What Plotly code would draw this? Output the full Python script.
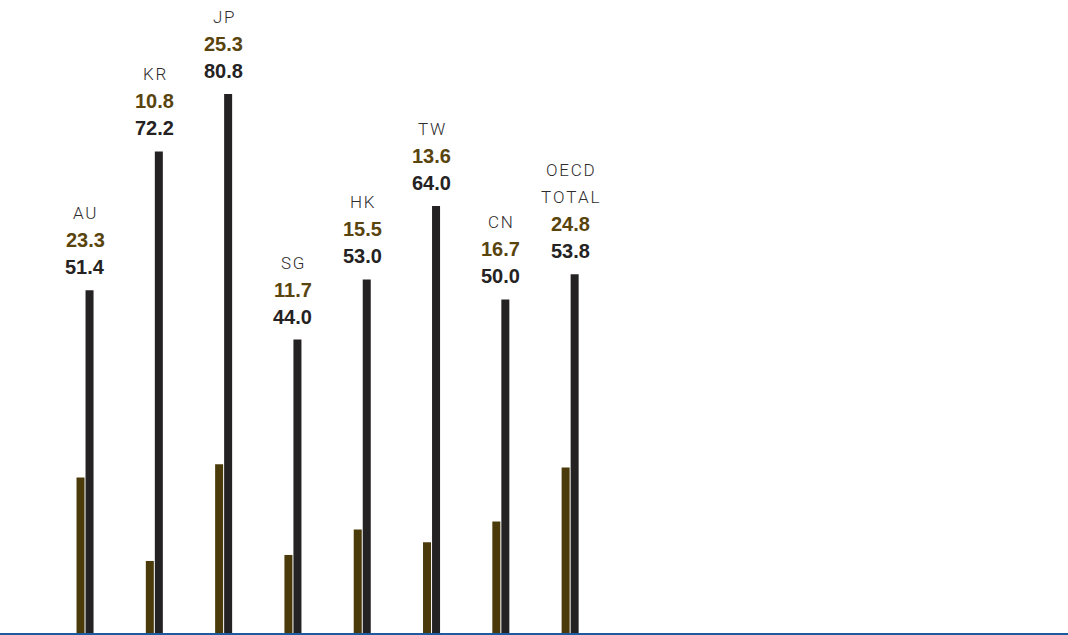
import plotly.graph_objects as go

# Category names (multi-line names split with "\n")
categories = ["AU", "KR", "JP", "SG", "HK", "TW", "CN", "OECD\nTOTAL"]
# Series values
series_brown = [23.3, 10.8, 25.3, 11.7, 15.5, 13.6, 16.7, 24.8]
series_dark = [51.4, 72.2, 80.8, 44.0, 53.0, 64.0, 50.0, 53.8]

BROWN = "#4b3a0a"
BROWN_TEXT = "#59440e"
DARK = "#252223"
NAME = "#2e2c2d"
BLUE = "#1d5a9e"

keys = [c.replace("\n", " ") for c in categories]

fig = go.Figure()
fig.add_trace(go.Bar(x=keys, y=series_brown, marker=dict(color=BROWN, line=dict(width=0)),
                     hoverinfo="skip"))
fig.add_trace(go.Bar(x=keys, y=series_dark, marker=dict(color=DARK, line=dict(width=0)),
                     hoverinfo="skip"))

# Stacked labels above each group: name line(s), brown value, dark value
annotations = []
for key, name, b, d in zip(keys, categories, series_brown, series_dark):
    lines = [(f"<b>{d:.1f}</b>", DARK, "Liberation Sans", 20, None),
             (f"<b>{b:.1f}</b>", BROWN_TEXT, "Liberation Sans", 20, None)]
    for part in reversed(name.split("\n")):
        lines.append(("\u200a".join(part), NAME, "Roboto", 17, 300))
    for k, (txt, col, fam, size, weight) in enumerate(lines):
        font = dict(family=fam, size=size, color=col)
        if weight:
            font["weight"] = weight
        annotations.append(dict(
            x=key, y=d, xref="x", yref="y", text=txt, showarrow=False,
            yanchor="middle", xanchor="center", yshift=23 + 27 * k, font=font))

fig.update_layout(
    width=1068, height=635,
    margin=dict(l=0, r=0, t=0, b=2),
    paper_bgcolor="white", plot_bgcolor="white",
    barmode="group", bargap=0.74, bargroupgap=0.111,
    showlegend=False,
    annotations=annotations,
    xaxis=dict(type="category", range=[-1.227, 14.184], showticklabels=False,
               showgrid=False, zeroline=False, showline=True,
               linecolor=BLUE, linewidth=3, ticks=""),
    yaxis=dict(range=[0, 94.9], visible=False, showgrid=False, zeroline=False),
)

fig.write_html("out.html")
